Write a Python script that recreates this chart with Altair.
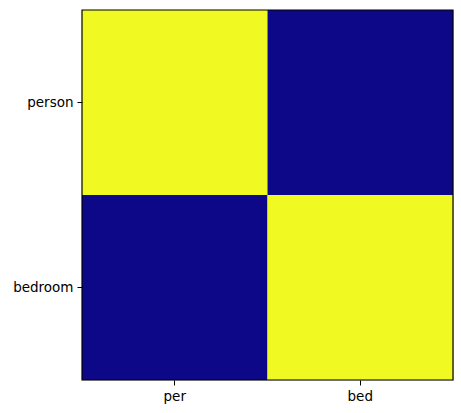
import altair as alt
import pandas as pd

rows = ["person", "bedroom"]
cols = ["per", "bed"]
values = [[1, 0], [0, 1]]

records = []
for i, r in enumerate(rows):
    for j, c in enumerate(cols):
        records.append({"row": r, "col": c, "value": values[i][j]})
df = pd.DataFrame(records)

W, H = 371, 370

axis_common = dict(
    labelFont="DejaVu Sans",
    labelFontSize=13.5,
    labelColor="#000000",
    tickColor="#000000",
    tickSize=5,
    tickWidth=1,
    labelPadding=4,
    domain=False,
    grid=False,
    title=None,
)

heat = alt.Chart(df).mark_rect(stroke=None).encode(
    x=alt.X("col:N", sort=cols, scale=alt.Scale(paddingInner=0, paddingOuter=0),
            axis=alt.Axis(labelAngle=0, **axis_common)),
    y=alt.Y("row:N", sort=rows, scale=alt.Scale(paddingInner=0, paddingOuter=0),
            axis=alt.Axis(**axis_common)),
    color=alt.Color("value:Q", scale=alt.Scale(domain=[0, 1], range=["#0d0887", "#f0f921"]), legend=None),
)

frame = alt.Chart(pd.DataFrame({"a": [0]})).mark_rect(
    fill=None, stroke="#000000", strokeWidth=1.2
).encode(
    x=alt.value(0), x2=alt.value(W), y=alt.value(0), y2=alt.value(H)
)

chart = alt.layer(heat, frame).properties(
    width=W,
    height=H,
    autosize=alt.AutoSizeParams(type="none"),
    padding={"left": 82, "top": 10, "right": 8, "bottom": 33},
).configure_view(
    stroke=None,
).configure(background="#ffffff")

chart.save("out.html", embed_options={"renderer": "svg", "actions": False})
